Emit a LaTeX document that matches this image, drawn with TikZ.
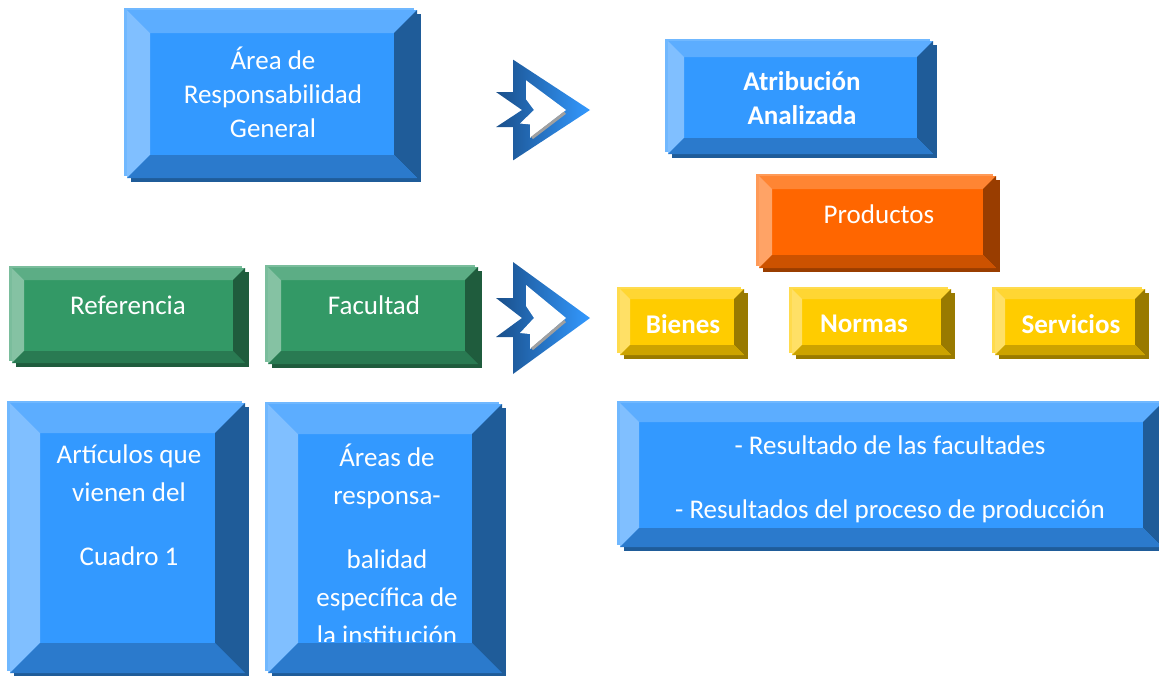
\documentclass[tikz,border=0pt]{standalone}
\usepackage{fontspec}
\setmainfont{Carlito}
\usepackage{tikz}
\usetikzlibrary{calc}
\definecolor{bluefront}{HTML}{3399FF}
\definecolor{bluetop}{HTML}{5CADFF}
\definecolor{blueleft}{HTML}{80BFFF}
\definecolor{blueright}{HTML}{1F5C99}
\definecolor{bluebottom}{HTML}{2B7ACC}
\definecolor{blueshade}{HTML}{1F5C99}
\definecolor{bluelight}{HTML}{70B8FF}
\definecolor{greenfront}{HTML}{339966}
\definecolor{greentop}{HTML}{5CAD85}
\definecolor{greenleft}{HTML}{85C2A3}
\definecolor{greenright}{HTML}{1F5C3D}
\definecolor{greenbottom}{HTML}{297A52}
\definecolor{greenshade}{HTML}{1F5C3D}
\definecolor{greenlight}{HTML}{7ABD9C}
\definecolor{orangefront}{HTML}{FF6600}
\definecolor{orangetop}{HTML}{FF8533}
\definecolor{orangeleft}{HTML}{FFA366}
\definecolor{orangeright}{HTML}{993D00}
\definecolor{orangebottom}{HTML}{CC5200}
\definecolor{orangeshade}{HTML}{993D00}
\definecolor{orangelight}{HTML}{FF9A57}
\definecolor{yellowfront}{HTML}{FFCC00}
\definecolor{yellowtop}{HTML}{FFD633}
\definecolor{yellowleft}{HTML}{FFE066}
\definecolor{yellowright}{HTML}{997A00}
\definecolor{yellowbottom}{HTML}{CCA300}
\definecolor{yellowshade}{HTML}{997A00}
\definecolor{yellowlight}{HTML}{FFDB4D}
\definecolor{arrowdark}{HTML}{1A4F8A}
\definecolor{arrowlight}{HTML}{3399FF}
\definecolor{arrowgrey}{HTML}{A0A0A0}
\tikzset{
  boxtext/.style={
    text=white,
    align=center,
    inner sep=0pt,
    font=\fontsize{27}{34}\selectfont
  },
  boldtext/.style={
    boxtext,
    font=\fontsize{27}{34}\selectfont\bfseries
  },
  talltext/.style={
    boxtext,
    font=\fontsize{27}{38}\selectfont
  }
}
% #1 colour set, (#2,#3) top left, (#4,#5) bottom right, #6 bevel
\newcommand{\bevelbox}[6]{%
  \fill[#1shade] (#2+4,#3+4) rectangle (#4+4,#5+4);
  \fill[#1light] (#2-3,#3-2) rectangle (#4-3,#5-2);
  \fill[#1front] (#2,#3) rectangle (#4,#5);
  \fill[#1top] (#2,#3) -- (#4,#3) -- (#4-#6,#3+#6) -- (#2+#6,#3+#6) -- cycle;
  \fill[#1left] (#2,#3) -- (#2+#6,#3+#6) -- (#2+#6,#5-#6) -- (#2,#5) -- cycle;
  \fill[#1right] (#4,#3) -- (#4,#5) -- (#4-#6,#5-#6) -- (#4-#6,#3+#6) -- cycle;
  \fill[#1bottom] (#2,#5) -- (#4,#5) -- (#4-#6,#5-#6) -- (#2+#6,#5-#6) -- cycle;
}
% #1,#2 tip of the arrow, #3 vertical scale
\newcommand{\chevron}[3]{%
  \begin{scope}[shift={(#1,#2)}, yscale=#3]
    \shade[left color=arrowdark, right color=arrowlight]
      (-77,-56) -- (0,0) -- (-77,56) -- (-77,19) -- (-94,19) -- (-68,0)
      -- (-94,-20) -- (-77,-20) -- cycle;
    \fill[white] (-64,-33) -- (-24,0) -- (-60,31) -- (-60,16) -- (-70,15)
      -- (-56,0) -- (-64,-12) -- cycle;
    \draw[arrowgrey, line width=3pt] (-58,31) -- (-25,3);
  \end{scope}%
}

\begin{document}
\begin{tikzpicture}[x=1pt, y=-1pt]
\useasboundingbox (0,0) rectangle (1159,675);

\bevelbox{blue}{127}{10}{417}{178}{23}
\node[boxtext] (general) at (273,92) {Área de\\Responsabilidad\\General};

\chevron{590}{110}{0.9}
\chevron{590}{318}{1}

\bevelbox{blue}{668}{41}{933}{154}{16}
\node[boldtext] (atribucion) at (802,98) {Atribución\\Analizada};

\bevelbox{orange}{759}{176}{996}{268}{13}
\node[boxtext] (productos) at (879,214) {Productos};

\bevelbox{yellow}{620}{289}{744}{355}{10}
\bevelbox{yellow}{792}{289}{951}{355}{10}
\bevelbox{yellow}{995}{289}{1145}{355}{10}
\node[boldtext] (bienes) at (683,324) {Bienes};
\node[boldtext] (normas) at (864,324) {Normas};
\node[boldtext] (servicios) at (1071,324) {Servicios};

\bevelbox{green}{12}{268}{245}{363}{12}
\bevelbox{green}{268}{267}{478}{364}{13}
\node[boxtext] (referencia) at (128,305) {Referencia};
\node[boxtext] (facultad) at (374,305) {Facultad};

\bevelbox{blue}{10}{403}{245}{673}{30}
\node[talltext] (articulos) at (129,505) {Artículos que\\vienen del\\[26pt]Cuadro 1};

\bevelbox{blue}{268}{404}{502}{673}{30}
\begin{scope}
  \clip (298,434) rectangle (472,641);
  \node[talltext] (especifica) at (387,544) {Áreas de\\responsa-\\[26pt]balidad\\específica de\\la institución};
\end{scope}

\bevelbox{blue}{620}{403}{1162}{547}{19}
\node[boxtext] (resultados) at (890,479) {- Resultado de las facultades\\[30pt]- Resultados del proceso de producción};
\end{tikzpicture}
\end{document}
